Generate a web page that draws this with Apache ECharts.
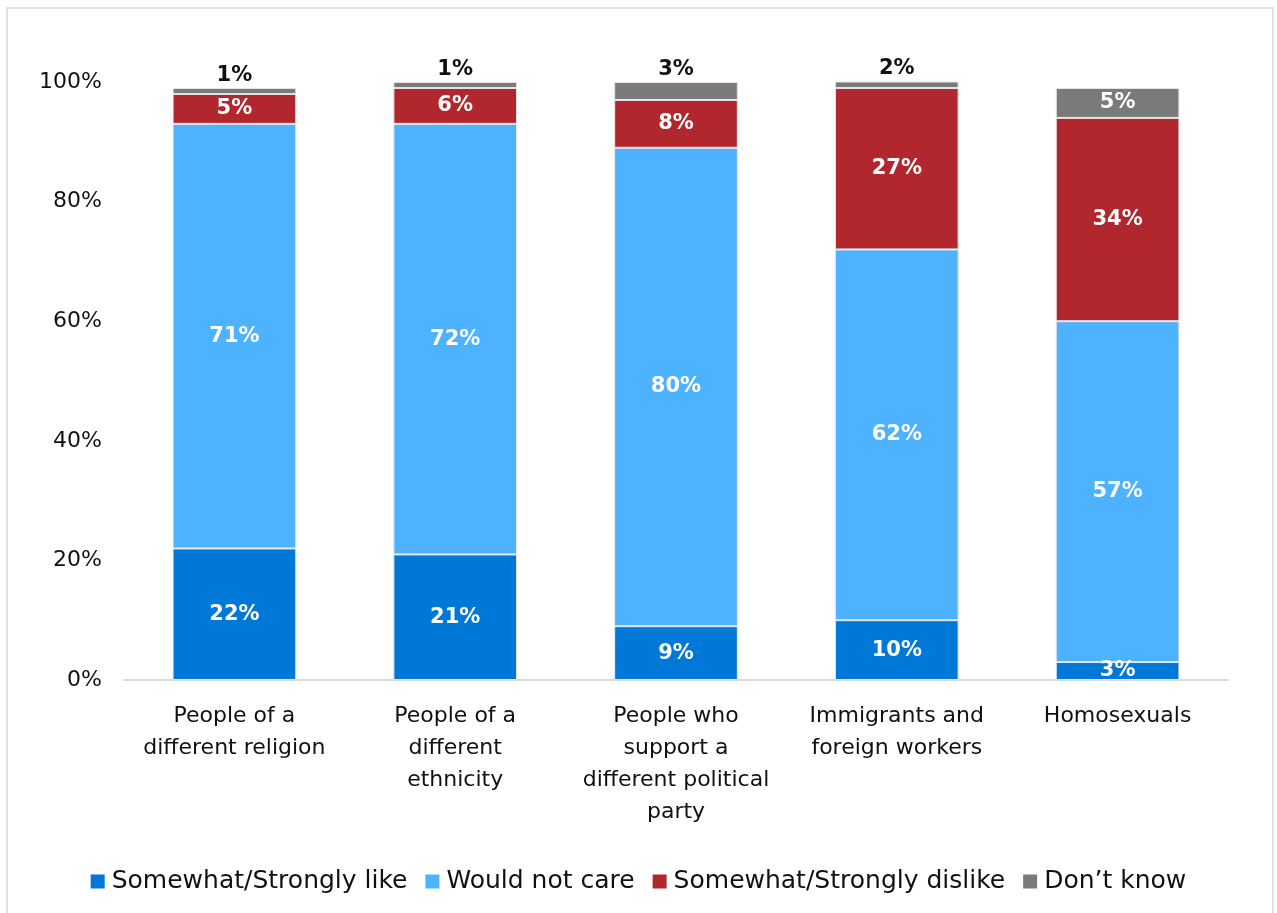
<!DOCTYPE html>
<html>
<head>
<meta charset="utf-8">
<script src="https://cdn.jsdelivr.net/npm/echarts@6/dist/echarts.min.js"></script>
<style>
  html, body { margin: 0; padding: 0; background: #fff; }
  #chart { width: 1277px; height: 913px; }
</style>
</head>
<body>
<div id="chart"></div>
<script>
// Attitudes toward having different groups as neighbours (% of respondents)
const categories = [
  'People of a\ndifferent religion',
  'People of a\ndifferent\nethnicity',
  'People who\nsupport a\ndifferent political\nparty',
  'Immigrants and\nforeign workers',
  'Homosexuals'
];
const seriesNames = ['Somewhat/Strongly like', 'Would not care', 'Somewhat/Strongly dislike', 'Don\u2019t know'];
const likeValues = [22, 21, 9, 10, 3];
const notCareValues = [71, 72, 80, 62, 57];
const dislikeValues = [5, 6, 8, 27, 34];
const dontKnowValues = [1, 1, 3, 2, 5];
const yTicks = [0, 20, 40, 60, 80, 100];

const colors = ['#0078D7', '#4DB2FF', '#B2272D', '#7A7A7A'];
const FONT = 'DejaVu Sans';

const insideLabel = {
  show: true,
  position: 'inside',
  color: '#fff',
  fontFamily: FONT,
  fontWeight: 'bold',
  fontSize: 21,
  formatter: p => p.value + '%'
};

function makeSeries(name, values, color, extra) {
  return Object.assign({
    name: name,
    type: 'bar',
    stack: 'total',
    barWidth: '56%',
    data: values,
    itemStyle: { color: color, borderColor: '#e6e6e6', borderWidth: 1 },
    label: insideLabel,
    emphasis: { disabled: true }
  }, extra || {});
}

// Small "don't know" shares are labelled above the bar, larger ones inside
const dontKnowData = dontKnowValues.map(v => v >= 4
  ? { value: v }
  : { value: v, label: { position: 'top', color: '#111', distance: 2 } });

const chart = echarts.init(document.getElementById('chart'), null, { renderer: 'canvas' });
chart.setOption({
  animation: false,
  backgroundColor: '#fff',
  color: colors,
  graphic: [{
    type: 'rect',
    shape: { x: 7, y: 8, width: 1266, height: 930 },
    style: { fill: 'none', stroke: '#e2e2e2', lineWidth: 2 },
    silent: true,
    z: -10
  }],
  grid: { left: 124, right: 49, top: 82, bottom: 233, containLabel: false },
  legend: {
    bottom: 14,
    left: 'center',
    itemWidth: 14,
    itemHeight: 14,
    itemGap: 18,
    icon: 'rect',
    itemStyle: { borderWidth: 0 },
    textStyle: { fontFamily: FONT, fontSize: 25, color: '#111', padding: [0, 0, 0, 2] },
    data: seriesNames
  },
  xAxis: {
    type: 'category',
    data: categories,
    axisLine: { show: true, lineStyle: { color: '#d9d9d9', width: 2 } },
    axisTick: { show: false },
    axisLabel: {
      interval: 0,
      fontFamily: FONT,
      fontSize: 22,
      color: '#111',
      lineHeight: 32,
      margin: 20
    }
  },
  yAxis: {
    type: 'value',
    min: 0,
    max: 100,
    interval: 20,
    axisLine: { show: false },
    axisTick: { show: false },
    splitLine: { show: false },
    axisLabel: {
      fontFamily: FONT,
      fontSize: 22,
      color: '#111',
      margin: 22,
      formatter: v => yTicks.includes(v) ? v + '%' : ''
    }
  },
  series: [
    makeSeries(seriesNames[0], likeValues, colors[0]),
    makeSeries(seriesNames[1], notCareValues, colors[1]),
    makeSeries(seriesNames[2], dislikeValues, colors[2]),
    makeSeries(seriesNames[3], dontKnowData, colors[3])
  ]
});
</script>
</body>
</html>
